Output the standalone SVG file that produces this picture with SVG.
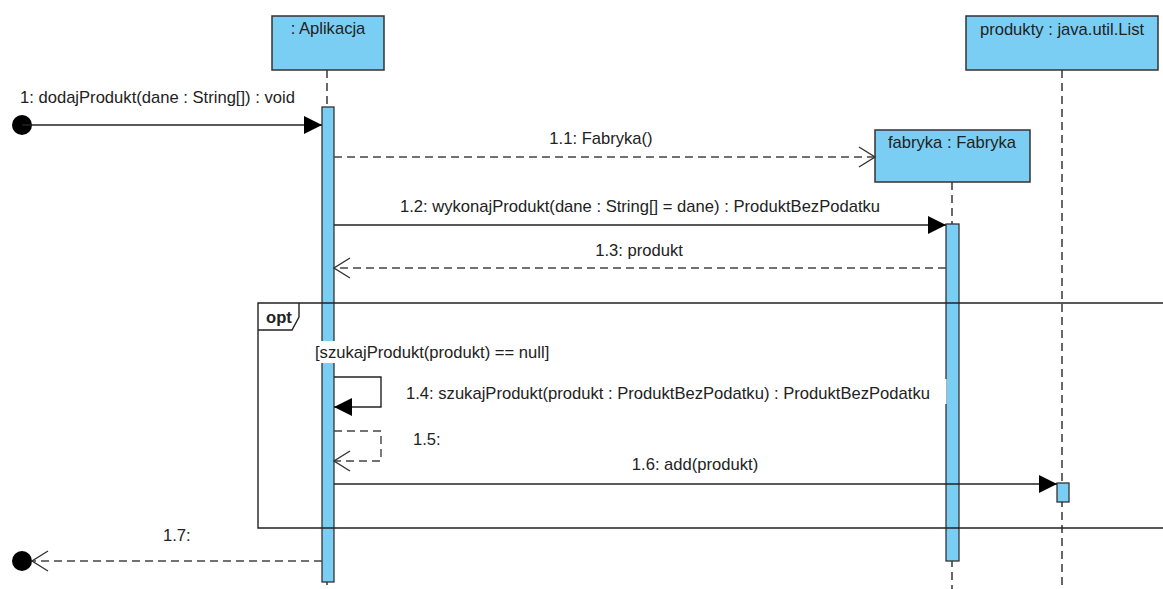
<svg xmlns="http://www.w3.org/2000/svg" width="1163" height="589" viewBox="0 0 1163 589">
<style>
text{font-family:"Liberation Sans",Arial,sans-serif;font-size:16.6px;fill:#222}
.box{fill:#7ACEF4;stroke:#333;stroke-width:1.5}
.bar{fill:#7ACEF4;stroke:#333;stroke-width:1.3}
.life{stroke:#444;stroke-width:1.6;stroke-dasharray:8,5;fill:none}
.msg{stroke:#222;stroke-width:1.4;fill:none}
.ret{stroke:#444;stroke-width:1.4;stroke-dasharray:8,5;fill:none}
.frame{stroke:#222;stroke-width:1.4;fill:none}
.mid{text-anchor:middle}
</style>
<defs>
<marker id="filled" markerWidth="20" markerHeight="18" refX="18" refY="9" orient="auto" markerUnits="userSpaceOnUse">
<path d="M0,0 L18,9 L0,18 Z" fill="#000"/>
</marker>
<marker id="open" markerWidth="20" markerHeight="22" refX="17" refY="11" orient="auto" markerUnits="userSpaceOnUse">
<path d="M1,1 L17,11 L1,21" fill="none" stroke="#333" stroke-width="1.4"/>
</marker>
</defs>
<rect width="1163" height="589" fill="#fff"/>

<g id="lifelines">
<line class="life" x1="327" y1="70" x2="327" y2="589"/>
<line class="life" x1="952" y1="182" x2="952" y2="589"/>
<line class="life" x1="1062" y1="70" x2="1062" y2="589"/>
</g>

<g id="aplikacja">
<rect class="box" x="272" y="16" width="112" height="54"/>
<text class="mid" x="328" y="34">: Aplikacja</text>
<rect class="bar" x="322" y="107" width="12" height="475"/>
</g>

<g id="produkty">
<rect class="box" x="966" y="16" width="192" height="54"/>
<text class="mid" x="1062" y="35">produkty : java.util.List</text>
<rect class="bar" x="1057" y="483" width="12" height="19"/>
</g>

<g id="fabryka">
<rect class="box" x="875" y="130" width="155" height="52"/>
<text class="mid" x="952" y="148">fabryka : Fabryka</text>
<rect class="bar" x="946" y="224" width="13" height="337"/>
</g>

<g id="opt-frame">
<path class="frame" d="M1170,303 L258,303 L258,528 L1170,528"/>
<path class="frame" d="M258,330 L292,330 L299,317 L299,303"/>
<text x="266" y="323" style="font-weight:bold">opt</text>
<rect x="313" y="341" width="240" height="22" fill="#fff"/>
<text x="315" y="358">[szukajProdukt(produkt) == null]</text>
</g>

<g id="connectors">
<circle cx="22" cy="125" r="10" fill="#000"/>
<line class="msg" x1="22" y1="125" x2="322" y2="125" marker-end="url(#filled)"/>
<text x="20" y="103">1: dodajProdukt(dane : String[]) : void</text>

<line class="ret" x1="334" y1="157" x2="875" y2="157" marker-end="url(#open)"/>
<text class="mid" x="601" y="144">1.1: Fabryka()</text>

<line class="msg" x1="334" y1="225" x2="946" y2="225" marker-end="url(#filled)"/>
<text class="mid" x="640" y="212">1.2: wykonajProdukt(dane : String[] = dane) : ProduktBezPodatku</text>

<line class="ret" x1="946" y1="268" x2="334" y2="268" marker-end="url(#open)"/>
<text class="mid" x="639" y="256">1.3: produkt</text>

<path class="msg" d="M334,377 L381,377 L381,407 L334,407" marker-end="url(#filled)"/>
<rect x="403" y="379" width="543.5" height="25" fill="#fff"/>
<text x="406" y="399">1.4: szukajProdukt(produkt : ProduktBezPodatku) : ProduktBezPodatku</text>

<path class="ret" d="M334,431 L381,431 L381,461 L334,461" marker-end="url(#open)"/>
<text x="413" y="445">1.5:</text>

<line class="msg" x1="334" y1="484" x2="1057" y2="484" marker-end="url(#filled)"/>
<text class="mid" x="695" y="470">1.6: add(produkt)</text>

<circle cx="22" cy="561" r="10" fill="#000"/>
<line class="ret" x1="322" y1="561" x2="32" y2="561" marker-end="url(#open)"/>
<text x="163" y="541">1.7:</text>
</g>
</svg>
